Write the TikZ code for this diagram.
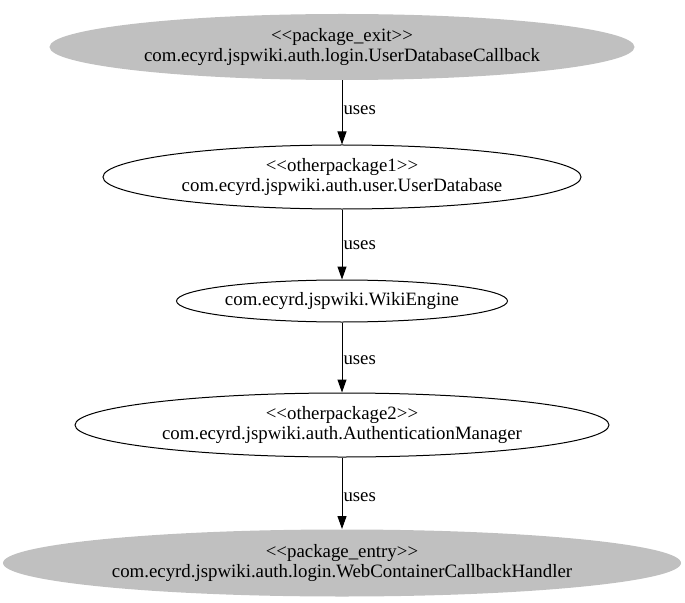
\documentclass[tikz,border=0pt]{standalone}
\usepackage{fontspec}
\setmainfont{Liberation Serif}
\usetikzlibrary{shapes.geometric,arrows.meta}
\definecolor{pkggray}{RGB}{192,192,192}

\begin{document}
\begin{tikzpicture}[x=1bp, y=-1bp, line width=1bp,
    pkg/.style={ellipse, draw, inner sep=0pt, align=center, font=\fontsize{18.9}{21}\selectfont},
    pkgend/.style={pkg, draw=none, fill=pkggray},
    uselabel/.style={anchor=west, inner sep=0pt, font=\fontsize{18.9}{21}\selectfont},
    >={Triangle[length=13bp,width=9bp]}]

                \useasboundingbox (0,0) rectangle (685,603);

                \node[pkgend, minimum width=585bp, minimum height=66bp] (exit) at (342,47)
                    {<{}<package\_exit>{}>\\com.ecyrd.jspwiki.auth.login.UserDatabaseCallback};
                \node[pkg, minimum width=478bp, minimum height=64bp] (udb) at (342,177)
                    {<{}<otherpackage1>{}>\\com.ecyrd.jspwiki.auth.user.UserDatabase};
                \node[pkg, minimum width=322bp, minimum height=42bp] (engine) at (342,301)
                    {com.ecyrd.jspwiki.WikiEngine};
                \node[pkg, minimum width=534bp, minimum height=64bp] (authmgr) at (342,425)
                    {<{}<otherpackage2>{}>\\com.ecyrd.jspwiki.auth.AuthenticationManager};
                \node[pkgend, minimum width=678bp, minimum height=67bp] (entry) at (342,563)
                    {<{}<package\_entry>{}>\\com.ecyrd.jspwiki.auth.login.WebContainerCallbackHandler};

                \draw[->] (exit) -- (udb);
                \draw[->] (udb) -- (engine);
                \draw[->] (engine) -- (authmgr);
                \draw[->] (authmgr) -- (entry);

                \node[uselabel] (l1) at (343,110) {uses};
                \node[uselabel] (l2) at (343,245) {uses};
                \node[uselabel] (l3) at (343,360) {uses};
                \node[uselabel] (l4) at (343,497) {uses};

            \end{tikzpicture}
\end{document}
